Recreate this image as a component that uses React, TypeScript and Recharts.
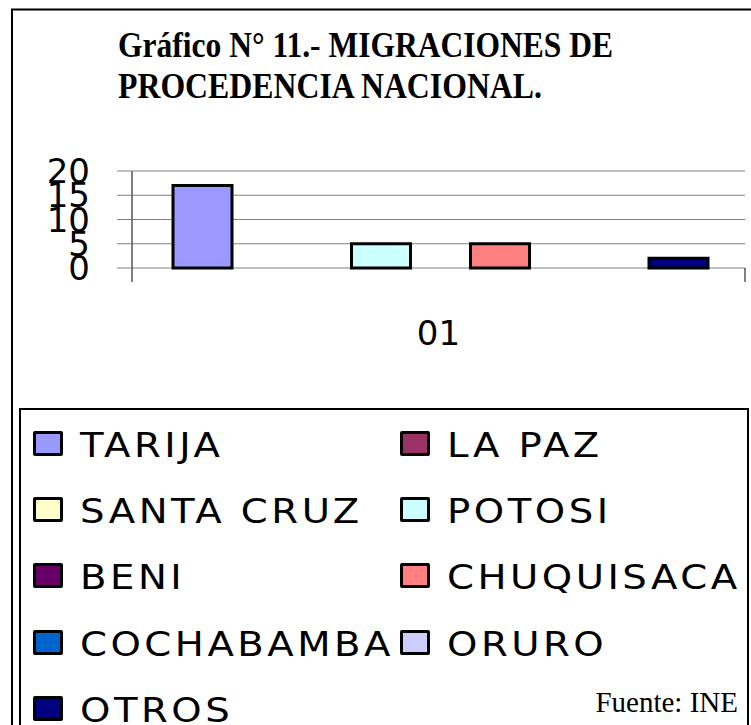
import React from 'react';
import * as R from 'recharts';
import { BarChart, Bar, XAxis, YAxis, CartesianGrid, Legend, Customized } from 'recharts';

const categories = ['01'];
const seriesNames = ['TARIJA', 'LA PAZ', 'SANTA CRUZ', 'POTOSI', 'BENI', 'CHUQUISACA', 'COCHABAMBA', 'ORURO', 'OTROS'];
const seriesValues = [17, 0, 0, 5, 0, 5, 0, 0, 2];
const seriesColors = ['#9999FF', '#993366', '#FFFFCC', '#CCFFFF', '#660066', '#FF8080', '#0066CC', '#CCCCFF', '#000080'];
const yTicks = [0, 5, 10, 15, 20];
const titleLines = ['Gráfico N° 11.- MIGRACIONES DE', 'PROCEDENCIA NACIONAL.'];
const sourceText = 'Fuente: INE';

const data = categories.map((c) => {
  const row: Record<string, string | number> = { name: c };
  seriesNames.forEach((n, i) => {
    row[n] = seriesValues[i];
  });
  return row;
});

const SERIF = "'Liberation Serif', 'Times New Roman', serif";
const SANS = "'DejaVu Sans', sans-serif";

const usePlot: () => any = (R as any).usePlotArea || (R as any).useOffset || (() => null);

const EdgeTicks = () => {
  const p = usePlot();
  if (!p || typeof p.width !== 'number') return null;
  const x0 = p.x ?? p.left;
  const y0 = (p.y ?? p.top) + p.height;
  return (
    <g>
      {[x0, x0 + p.width].map((x: number, i: number) => (
        <line key={i} x1={x} x2={x} y1={y0} y2={y0 + 14} stroke="#000" strokeWidth={1} />
      ))}
    </g>
  );
};

const Decor = () => (
  <g>
    <path d="M12 900 V9.5 H900" fill="none" stroke="#000" strokeWidth={2} />
    <text x={118} y={57} fontFamily={SERIF} fontWeight="bold" fontSize={35} textLength={495} lengthAdjust="spacingAndGlyphs" fill="#000">
      {titleLines[0]}
    </text>
    <text x={118} y={98} fontFamily={SERIF} fontWeight="bold" fontSize={35} textLength={424} lengthAdjust="spacingAndGlyphs" fill="#000">
      {titleLines[1]}
    </text>
    <text x={738} y={712} textAnchor="end" fontFamily={SERIF} fontSize={29} fill="#000">
      {sourceText}
    </text>
  </g>
);

const LegendBox = () => (
  <div
    style={{
      boxSizing: 'border-box',
      width: 730,
      height: 330,
      border: '2px solid #000',
      background: 'transparent',
      display: 'grid',
      gridTemplateColumns: '367px 1fr',
      gridAutoRows: '66.3px',
      paddingLeft: 12,
      fontFamily: SANS,
      fontSize: 33,
      letterSpacing: 3,
      color: '#000',
    }}
  >
    {seriesNames.map((n, i) => (
      <div key={n} style={{ display: 'flex', alignItems: 'center', whiteSpace: 'nowrap' }}>
        <span
          style={{
            display: 'inline-block',
            boxSizing: 'border-box',
            width: 30,
            height: 25,
            border: '3px solid #000',
            borderRadius: 2,
            background: seriesColors[i],
            marginRight: 17,
            flex: 'none',
          }}
        />
        <span
          style={{
            display: 'inline-block',
            lineHeight: 1,
            transform: 'scaleX(1.17)',
            transformOrigin: 'left center',
            marginTop: 4,
          }}
        >
          {n}
        </span>
      </div>
    ))}
  </div>
);

export default function App() {
  return (
    <div style={{ position: 'fixed', left: 0, top: 0, width: 751, height: 725, overflow: 'hidden', background: '#fff' }}>
      <BarChart
        width={751}
        height={725}
        data={data}
        margin={{ top: 171, right: 6, bottom: 397, left: 32 }}
        barCategoryGap={41}
        barGap={0.5}
      >
        <Customized component={<Decor />} />
        <CartesianGrid vertical={false} stroke="#808080" />
        <XAxis
          dataKey="name"
          type="category"
          axisLine={false}
          tickLine={false}
          tickSize={0}
          tickMargin={53}
          height={60}
          tick={{ fill: '#000', fontSize: 34, fontFamily: SANS }}
        />
        <YAxis
          domain={[0, 20]}
          ticks={yTicks}
          interval={0}
          width={100}
          tickSize={15}
          tickMargin={27}
          axisLine={{ stroke: '#000' }}
          tickLine={{ stroke: '#808080' }}
          tick={{ fill: '#000', fontSize: 34, fontFamily: SANS }}
        />
        {seriesNames.map((n, i) => (
          <Bar
            key={n}
            dataKey={n}
            name={n}
            fill={seriesColors[i]}
            stroke="#000"
            strokeWidth={3}
            isAnimationActive={false}
          />
        ))}
        <Customized component={<EdgeTicks />} />
        <Legend
          content={() => <LegendBox />}
          layout="horizontal"
          verticalAlign="middle"
          align="center"
          wrapperStyle={{ left: 19, top: 408, width: 730, height: 330, margin: 0, padding: 0 }}
        />
      </BarChart>
    </div>
  );
}
